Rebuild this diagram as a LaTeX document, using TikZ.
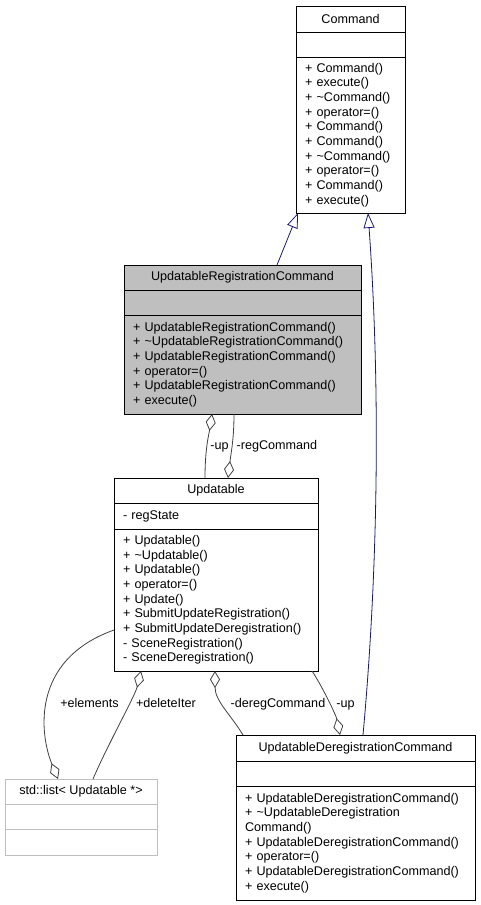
\documentclass[tikz,border=0pt]{standalone}
\usepackage{fontspec}
\setmainfont{Liberation Sans}
\usetikzlibrary{arrows.meta}

\definecolor{edgegray}{HTML}{404040}
\definecolor{inhblue}{HTML}{191970}
\definecolor{urcgray}{HTML}{BFBFBF}
\definecolor{extgray}{HTML}{BFBFBF}

\tikzset{
	compart/.style={draw, line width=1pt, inner xsep=9pt, inner ysep=3pt, outer sep=0pt, anchor=north west, font=\fontsize{12.6}{14.67}\selectfont},
	head/.style={compart, minimum width=#1, align=center},
	body/.style={compart, text width=#1, align=left},
	lbl/.style={inner sep=0pt, anchor=base, font=\fontsize{12.6}{14.67}\selectfont},
	inherit/.style={draw=inhblue, line width=0.8pt, -{Triangle[open, length=15pt, width=11pt]}},
	aggr/.style={draw=edgegray, line width=0.8pt, -{Diamond[open, length=17pt, width=10pt]}}
}

\begin{document}
\begin{tikzpicture}[x=1pt, y=-1pt]
	\useasboundingbox (0,0) rectangle (481,905);
	% Command
	\node[head=109, minimum height=26] (cmd) at (296,6) {Command};
	\node[body=91, minimum height=25] (cmdAttr) at (cmd.south west) {};
	\node[body=91, minimum height=156] (cmdOps) at (cmdAttr.south west) {+ Command()\\+ execute()\\+ \textasciitilde Command()\\+ operator=()\\+ Command()\\+ Command()\\+ \textasciitilde Command()\\+ operator=()\\+ Command()\\+ execute()};
	% UpdatableRegistrationCommand
	\node[head=237, minimum height=25, fill=urcgray] (urc) at (124,265) {UpdatableRegistrationCommand};
	\node[body=219, minimum height=25, fill=urcgray] (urcAttr) at (urc.south west) {};
	\node[body=219, minimum height=99, fill=urcgray] (urcOps) at (urcAttr.south west) {+~UpdatableRegistrationCommand()\\+~\textasciitilde UpdatableRegistrationCommand()\\+~UpdatableRegistrationCommand()\\+ operator=()\\+~UpdatableRegistrationCommand()\\+ execute()};
	% Updatable
	\node[head=204, minimum height=25] (upd) at (114,478) {Updatable};
	\node[body=186, minimum height=26] (updAttr) at (upd.south west) {- regState};
	\node[body=186, minimum height=142] (updOps) at (updAttr.south west) {+ Updatable()\\+ \textasciitilde Updatable()\\+ Updatable()\\+ operator=()\\+ Update()\\+ SubmitUpdateRegistration()\\+ SubmitUpdateDeregistration()\\- SceneRegistration()\\- SceneDeregistration()};
	% std::list
	\node[head=152, minimum height=25, draw=extgray] (list) at (5,779) {std::list< Updatable *>};
	\node[body=134, minimum height=25, draw=extgray] (listAttr) at (list.south west) {};
	\node[body=134, minimum height=26, draw=extgray] (listOps) at (listAttr.south west) {};
	% UpdatableDeregistrationCommand
	\node[head=239, minimum height=26] (udc) at (236,735) {UpdatableDeregistrationCommand};
	\node[body=221, minimum height=25] (udcAttr) at (udc.south west) {};
	\node[body=221, minimum height=114] (udcOps) at (udcAttr.south west) {+~UpdatableDeregistrationCommand()\\+ \textasciitilde UpdatableDeregistration\\Command()\\+~UpdatableDeregistrationCommand()\\+ operator=()\\+~UpdatableDeregistrationCommand()\\+ execute()};

	% inheritance
	\draw[inherit] ([xshift=34.5]urc.north) -- ([xshift=2]cmdOps.south west);
	\draw[inherit] ([xshift=7.5]udc.north) .. controls +(16,-175) and +(12,167) .. ([xshift=17.5]cmdOps.south);

	% aggregations
	\draw[aggr] ([xshift=-11]upd.north) .. controls +(0,-30) and +(-3,20) .. ([xshift=-30.5]urcOps.south);
	\draw[aggr] ([xshift=-8.5]urcOps.south) .. controls +(0,25) and +(3,-25) .. ([xshift=12]upd.north);
	\draw[aggr] ([xshift=-112.5]udc.north) .. controls +(-12,-20) and +(0,30) .. ([xshift=-1]updOps.south);
	\draw[aggr] ([xshift=96]updOps.south) .. controls +(10,15) and +(-4,-20) .. ([xshift=-15.5]udc.north);
	\draw[aggr] ([yshift=-30]updOps.west) .. controls +(-84,30) and +(-18,-44) .. ([xshift=-23]list.north);
	\draw[aggr] ([xshift=12]list.north) .. controls +(15,-35) and +(-6,25) .. ([xshift=-75]updOps.south);

	% labels
	\node[lbl] (lblUpA) at (219.5,449) {-up};
	\node[lbl] (lblReg) at (277,449) {-regCommand};
	\node[lbl] (lblElem) at (89.5,707) {+elements};
	\node[lbl] (lblDel) at (166,707) {+deleteIter};
	\node[lbl] (lblDereg) at (278,707) {-deregCommand};
	\node[lbl] (lblUpB) at (345.5,707) {-up};
\end{tikzpicture}
\end{document}
